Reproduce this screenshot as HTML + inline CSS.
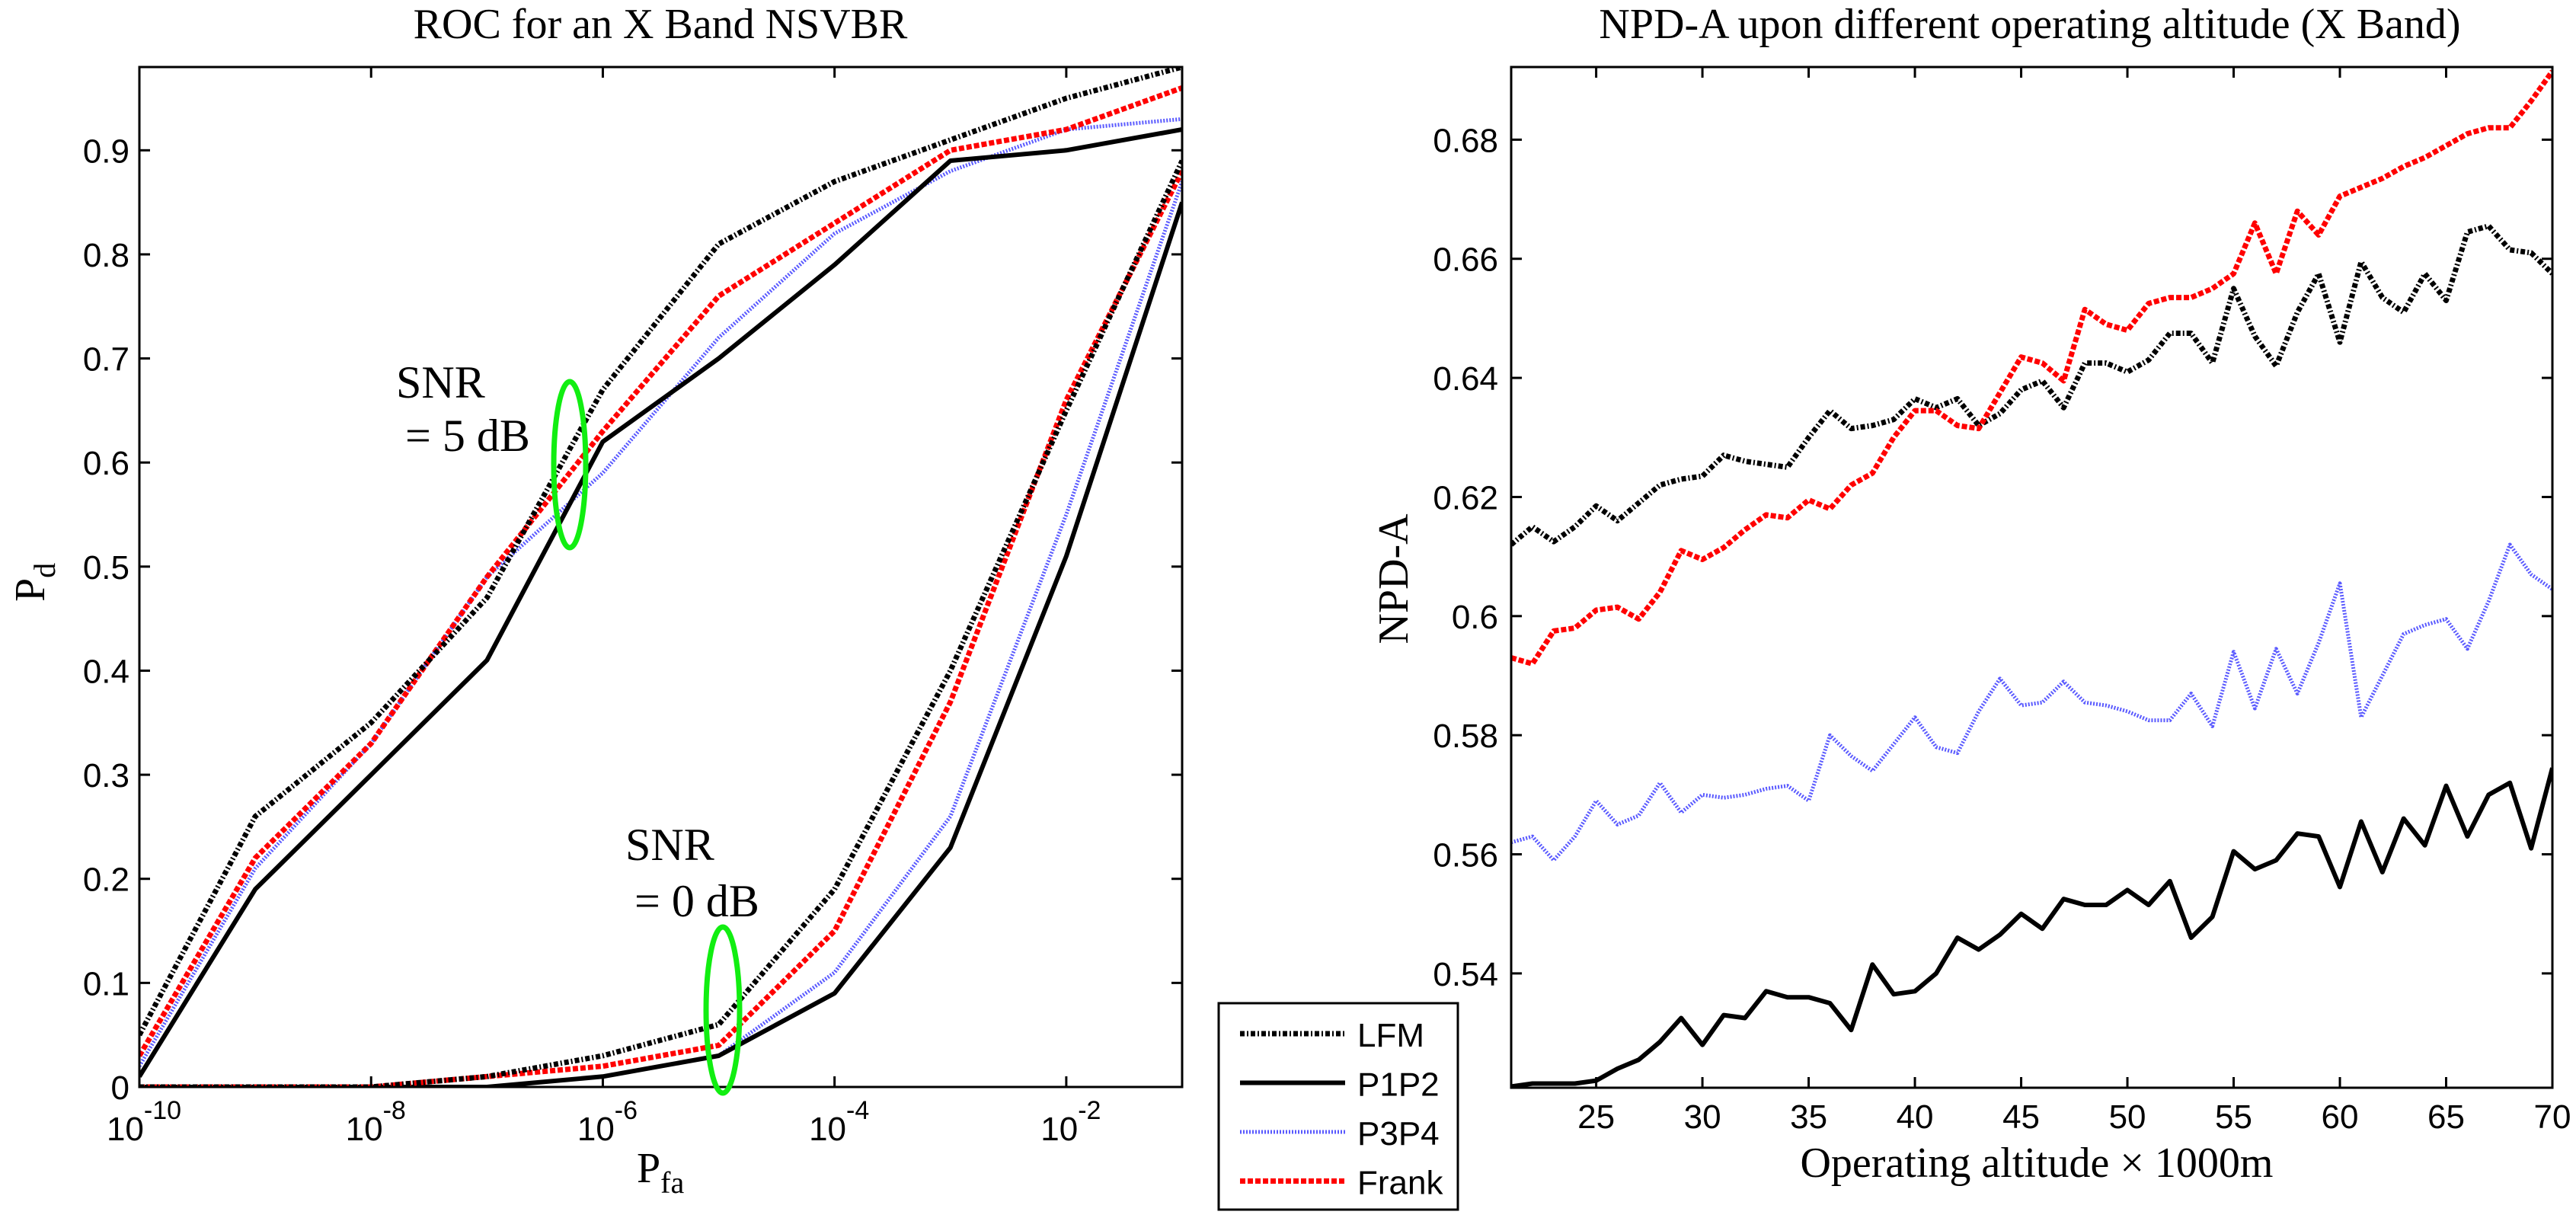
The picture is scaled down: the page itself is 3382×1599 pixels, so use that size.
<!DOCTYPE html>
<html><head><meta charset="utf-8">
<style>
html,body{margin:0;padding:0;background:#fff;}
svg{display:block;}
.tk{font-family:"Liberation Sans",sans-serif;font-size:44px;fill:#000;}
.sr{font-family:"Liberation Serif",serif;fill:#000;}
</style></head>
<body>
<svg id="fig" width="3382" height="1599" viewBox="0 0 3382 1599" xmlns="http://www.w3.org/2000/svg">
<rect width="3382" height="1599" fill="#fff"/>
<g id="left"></g>
<g id="right"></g>
</svg>
<script>
// ---- Left chart data (ROC) ----
const rocExponents = [-10,-9,-8,-7,-6,-5,-4,-3,-2,-1];
const rocXTickExp = [-10,-8,-6,-4,-2];
const rocYTicks = [0,0.1,0.2,0.3,0.4,0.5,0.6,0.7,0.8,0.9];
const lfm5 = [0.05,0.26,0.35,0.47,0.67,0.81,0.87,0.91,0.95,0.98];
const p1p2_5 = [0.01,0.19,0.30,0.41,0.62,0.70,0.79,0.89,0.90,0.92];
const p3p4_5 = [0.02,0.21,0.33,0.49,0.59,0.72,0.82,0.88,0.92,0.93];
const frank5 = [0.03,0.22,0.33,0.49,0.63,0.76,0.83,0.90,0.92,0.96];
const lfm0 = [0,0,0,0.01,0.03,0.06,0.19,0.40,0.65,0.89];
const p1p2_0 = [0,0,0,0,0.01,0.03,0.09,0.23,0.51,0.85];
const p3p4_0 = [0,0,0,0,0.01,0.03,0.11,0.26,0.55,0.87];
const frank0 = [0,0,0,0.01,0.02,0.04,0.15,0.37,0.66,0.88];

// ---- Right chart data (NPD-A) ----
const altitudes = [21,22,23,24,25,26,27,28,29,30,31,32,33,34,35,36,37,38,39,40,41,42,43,44,45,46,47,48,49,50,51,52,53,54,55,56,57,58,59,60,61,62,63,64,65,66,67,68,69,70];
const altXTicks = [25,30,35,40,45,50,55,60,65,70];
const npdYTicks = [0.54,0.56,0.58,0.6,0.62,0.64,0.66,0.68];
const npdYLabels = ["0.54","0.56","0.58","0.6","0.62","0.64","0.66","0.68"];
const npdLFM = [0.612,0.615,0.6125,0.615,0.6185,0.616,0.619,0.622,0.623,0.6235,0.627,0.626,0.6255,0.625,0.630,0.6345,0.6315,0.632,0.633,0.6365,0.635,0.6365,0.632,0.634,0.638,0.6395,0.635,0.6425,0.6425,0.641,0.643,0.6475,0.6475,0.6425,0.655,0.647,0.642,0.651,0.6575,0.646,0.6595,0.6535,0.651,0.6575,0.653,0.6645,0.6655,0.6615,0.661,0.6575];
const npdFrank = [0.593,0.592,0.5975,0.598,0.601,0.6015,0.5995,0.604,0.611,0.6095,0.6115,0.6145,0.617,0.6165,0.6195,0.618,0.622,0.624,0.630,0.6345,0.6345,0.632,0.6315,0.6375,0.6435,0.6425,0.6395,0.6515,0.649,0.648,0.6525,0.6535,0.6535,0.655,0.6575,0.666,0.6575,0.668,0.664,0.6705,0.672,0.6735,0.6755,0.677,0.679,0.681,0.682,0.682,0.6865,0.6915];
const npdP3P4 = [0.562,0.563,0.559,0.563,0.569,0.565,0.5665,0.572,0.567,0.570,0.5695,0.570,0.571,0.5715,0.569,0.580,0.5765,0.574,0.5785,0.583,0.578,0.577,0.584,0.5895,0.585,0.5855,0.589,0.5855,0.585,0.584,0.5825,0.5825,0.587,0.5815,0.594,0.5845,0.5945,0.587,0.5955,0.6055,0.583,0.590,0.597,0.5985,0.5995,0.5945,0.6025,0.612,0.607,0.6045];
const npdP1P2 = [0.521,0.5215,0.5215,0.5215,0.522,0.524,0.5255,0.5285,0.5325,0.528,0.533,0.5325,0.537,0.536,0.536,0.535,0.5305,0.5415,0.5365,0.537,0.540,0.546,0.544,0.5465,0.550,0.5475,0.5525,0.5515,0.5515,0.554,0.5515,0.5555,0.546,0.5495,0.5605,0.5575,0.559,0.5635,0.563,0.5545,0.5655,0.557,0.566,0.5615,0.5715,0.563,0.570,0.572,0.561,0.5745];

const NS="http://www.w3.org/2000/svg";
function mk(tag, attrs, parent, text){
  const e=document.createElementNS(NS,tag);
  for(const k in attrs) e.setAttribute(k,attrs[k]);
  if(text!==undefined) e.textContent=text;
  parent.appendChild(e); return e;
}
const STY={
  lfm:{stroke:"#000","stroke-width":7,"stroke-dasharray":"6,3,2,3"},
  p1p2:{stroke:"#000","stroke-width":6},
  p3p4:{stroke:"#5a5aff","stroke-width":5,"stroke-dasharray":"2,2"},
  frank:{stroke:"#ff0000","stroke-width":7,"stroke-dasharray":"7,3"}
};
function poly(parent, xs, ys, fx, fy, sty, name){
  const pts=xs.map((x,i)=>fx(x).toFixed(1)+","+fy(ys[i]).toFixed(1)).join(" ");
  const p=mk("polyline",Object.assign({points:pts,fill:"none","stroke-linejoin":"round"},sty),parent);
  
  
  return p;
}

// ===== LEFT =====
const L=document.getElementById("left");
const lx0=183,lx1=1552,ly0=88,ly1=1427,lyMax=0.98;
const lfx=e=>lx0+(e-(-10))/9*(lx1-lx0);
const lfy=v=>ly1-v/lyMax*(ly1-ly0);
const lcl=mk("clipPath",{id:"lclip"},L); mk("rect",{x:lx0,y:ly0,width:lx1-lx0,height:ly1-ly0},lcl);
const lg=mk("g",{"clip-path":"url(#lclip)"},L);


poly(lg,rocExponents,p3p4_5,lfx,lfy,STY.p3p4,"p3p4-snr5-line");
poly(lg,rocExponents,p1p2_5,lfx,lfy,STY.p1p2,"p1p2-snr5-line");
poly(lg,rocExponents,frank5,lfx,lfy,STY.frank,"frank-snr5-line");
poly(lg,rocExponents,lfm5,lfx,lfy,STY.lfm,"lfm-snr5-line");
poly(lg,rocExponents,p3p4_0,lfx,lfy,STY.p3p4,"p3p4-snr0-line");
poly(lg,rocExponents,p1p2_0,lfx,lfy,STY.p1p2,"p1p2-snr0-line");
poly(lg,rocExponents,frank0,lfx,lfy,STY.frank,"frank-snr0-line");
poly(lg,rocExponents,lfm0,lfx,lfy,STY.lfm,"lfm-snr0-line");
const lbox=mk("rect",{x:lx0,y:ly0,width:lx1-lx0,height:ly1-ly0,fill:"none",stroke:"#000","stroke-width":3},L);


rocYTicks.forEach(v=>{
  const y=lfy(v);
  mk("line",{x1:lx0,x2:lx0+14,y1:y,y2:y,stroke:"#000","stroke-width":3},L);
  mk("line",{x1:lx1,x2:lx1-14,y1:y,y2:y,stroke:"#000","stroke-width":3},L);
  const t=mk("text",{x:lx0-13,y:y+16,"text-anchor":"end",class:"tk"},L,String(v));
  
  
});
rocXTickExp.forEach(e=>{
  const x=lfx(e);
  mk("line",{x1:x,x2:x,y1:ly1,y2:ly1-14,stroke:"#000","stroke-width":3},L);
  mk("line",{x1:x,x2:x,y1:ly0,y2:ly0+14,stroke:"#000","stroke-width":3},L);
  const t=mk("text",{x:x+6,y:1497,"text-anchor":"middle",class:"tk"},L);
  
  
  mk("tspan",{},t,"10");
  mk("tspan",{dy:-28,"font-size":"34px"},t,String(e));
});
let t;
t=mk("text",{x:867,y:50,"text-anchor":"middle",class:"sr","font-size":"56px"},L,"ROC for an X Band NSVBR");

t=mk("text",{x:0,y:0,class:"sr","font-size":"56px",transform:"translate(58,790) rotate(-90)"},L);

mk("tspan",{},t,"P");mk("tspan",{dy:14,"font-size":"40px"},t,"d");
t=mk("text",{x:836,y:1552,class:"sr","font-size":"56px"},L);

mk("tspan",{},t,"P");mk("tspan",{dy:14,"font-size":"40px"},t,"fa");
t=mk("text",{x:520,y:522,class:"sr","font-size":"60px"},L,"SNR");

t=mk("text",{x:532,y:592,class:"sr","font-size":"60px"},L,"= 5 dB");

t=mk("text",{x:821,y:1129,class:"sr","font-size":"60px"},L,"SNR");

t=mk("text",{x:833,y:1203,class:"sr","font-size":"60px"},L,"= 0 dB");

t=mk("ellipse",{cx:748,cy:610,rx:21,ry:109,fill:"none",stroke:"#11ee11","stroke-width":7},L);

t=mk("ellipse",{cx:949,cy:1326,rx:22,ry:109,fill:"none",stroke:"#11ee11","stroke-width":7},L);


// ===== RIGHT =====
const R=document.getElementById("right");
const rx0=1984,rx1=3351,ry0=88,ry1=1428,rMin=0.5208,rMax=0.6922,aMin=21,aMax=70;
const rfx=a=>rx0+(a-aMin)/(aMax-aMin)*(rx1-rx0);
const rfy=v=>ry1-(v-rMin)/(rMax-rMin)*(ry1-ry0);
const rcl=mk("clipPath",{id:"rclip"},R); mk("rect",{x:rx0,y:ry0-4,width:rx1-rx0,height:ry1-ry0+4},rcl);
const rg=mk("g",{"clip-path":"url(#rclip)"},R);


poly(rg,altitudes,npdP1P2,rfx,rfy,STY.p1p2,"p1p2-line");
poly(rg,altitudes,npdP3P4,rfx,rfy,STY.p3p4,"p3p4-line");
poly(rg,altitudes,npdLFM,rfx,rfy,STY.lfm,"lfm-line");
poly(rg,altitudes,npdFrank,rfx,rfy,STY.frank,"frank-line");
const rbox=mk("rect",{x:rx0,y:ry0,width:rx1-rx0,height:ry1-ry0,fill:"none",stroke:"#000","stroke-width":3},R);


npdYTicks.forEach((v,i)=>{
  const y=rfy(v);
  mk("line",{x1:rx0,x2:rx0+14,y1:y,y2:y,stroke:"#000","stroke-width":3},R);
  mk("line",{x1:rx1,x2:rx1-14,y1:y,y2:y,stroke:"#000","stroke-width":3},R);
  const tt=mk("text",{x:rx0-17,y:y+16,"text-anchor":"end",class:"tk"},R,npdYLabels[i]);
  
  
});
altXTicks.forEach(a=>{
  const x=rfx(a);
  mk("line",{x1:x,x2:x,y1:ry1,y2:ry1-14,stroke:"#000","stroke-width":3},R);
  mk("line",{x1:x,x2:x,y1:ry0,y2:ry0+14,stroke:"#000","stroke-width":3},R);
  const tt=mk("text",{x:x,y:1481,"text-anchor":"middle",class:"tk"},R,String(a));
  
  
});
t=mk("text",{x:2665,y:50,"text-anchor":"middle",class:"sr","font-size":"56px"},R,"NPD-A upon different operating altitude (X Band)");

t=mk("text",{x:0,y:0,"text-anchor":"middle",class:"sr","font-size":"56px",transform:"translate(1848,760) rotate(-90)"},R,"NPD-A");

t=mk("text",{x:2674,y:1545,"text-anchor":"middle",class:"sr","font-size":"56px"},R,"Operating altitude × 1000m");


// ===== LEGEND =====
const S=document.getElementById("fig");
const lgd=mk("g",{},S);


mk("rect",{x:1600,y:1317,width:314,height:271,fill:"#fff",stroke:"#000","stroke-width":3},lgd);
const legNames=["LFM","P1P2","P3P4","Frank"];
const legKeys=["lfm","p1p2","p3p4","frank"];
legNames.forEach((n,i)=>{
  const y=1357+i*64.5;
  const g=mk("g",{},lgd);
  
  
  mk("line",Object.assign({x1:1628,x2:1766,y1:y,y2:y},STY[legKeys[i]]),g);
  mk("text",{x:1782,y:y+17,class:"tk","font-size":"46px"},g,n);
});
</script>
</body></html>
